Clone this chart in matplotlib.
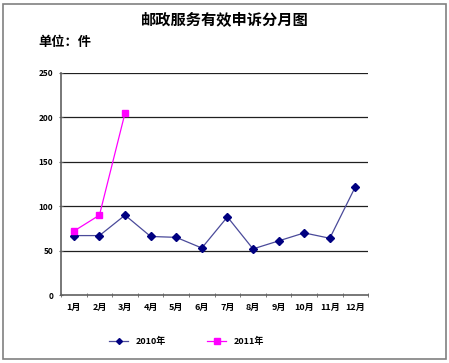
import matplotlib
matplotlib.use('Agg')
import matplotlib.pyplot as plt
from matplotlib.patches import Rectangle
import numpy as np

plt.rcParams['font.family'] = ['Noto Sans CJK SC', 'DejaVu Sans']

# 数据
meses = ['1月', '2月', '3月', '4月', '5月', '6月', '7月', '8月', '9月', '10月', '11月', '12月']
valores_2010 = [67, 67, 90, 66, 65, 53, 88, 52, 61, 70, 64, 122]
valores_2011 = [72, 90, 205]
yticks = [0, 50, 100, 150, 200, 250]

fig = plt.figure(figsize=(4.49, 3.63), dpi=100)
fig.patches.append(Rectangle((0.006, 0.012), 0.988, 0.978, transform=fig.transFigure,
                             fill=False, edgecolor='#808080', linewidth=1.2))

ax = fig.add_axes([0.136, 0.187, 0.684, 0.612])
x = np.arange(len(meses))
ax.plot(x, valores_2010, color='#4a4a9a', linewidth=0.9, marker='D', markersize=4,
        markerfacecolor='#000080', markeredgecolor='#000080', label='2010年', zorder=3)
ax.plot(x[:len(valores_2011)], valores_2011, color='#ff00ff', linewidth=0.9, marker='s',
        markersize=5, markerfacecolor='#ff00ff', markeredgecolor='#ff00ff', label='2011年', zorder=4)

ax.set_xlim(-0.5, len(meses) - 0.5)
ax.set_ylim(0, 250)
ax.set_yticks(yticks)
ax.set_yticklabels([str(v) for v in yticks], fontsize=6, fontweight='bold')
ax.set_xticks(x)
ax.set_xticklabels(meses, fontsize=6.5, fontweight='bold')
ax.set_xticks(np.arange(-0.5, len(meses)), minor=True)
ax.tick_params(axis='x', which='major', length=0, pad=6)
ax.tick_params(axis='x', which='minor', length=3, direction='inout', color='#606060')
ax.tick_params(axis='y', length=3, direction='inout', color='#606060', pad=4)

for v in yticks[1:]:
    ax.axhline(v, color='#202020', linewidth=0.9, zorder=1)

for s in ['top', 'right']:
    ax.spines[s].set_visible(False)
for s in ['left', 'bottom']:
    ax.spines[s].set_color('#606060')
    ax.spines[s].set_linewidth(1.2)

fig.text(0.5, 0.948, '邮政服务有效申诉分月图', ha='center', va='center', fontsize=11, fontweight='bold')
fig.text(0.085, 0.885, '单位：件', ha='left', va='center', fontsize=9.5, fontweight='bold')

leg = fig.legend(loc='center', bbox_to_anchor=(0.415, 0.06), ncol=2, frameon=False,
                 prop={'size': 6.5, 'weight': 'bold'}, columnspacing=4.5, handlelength=2.2,
                 markerscale=0.75)

fig.savefig('out.png', dpi=100)
